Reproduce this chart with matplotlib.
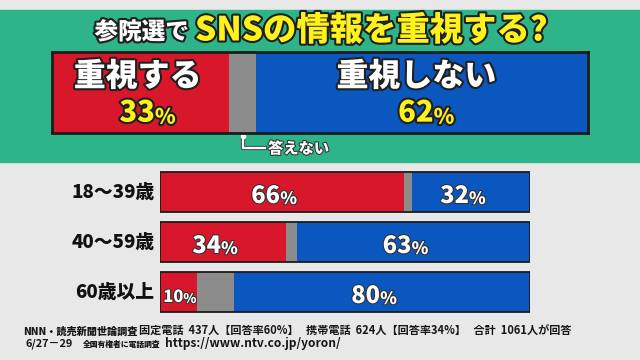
import matplotlib
matplotlib.use("Agg")
import matplotlib.pyplot as plt
import matplotlib.patheffects as pe

plt.rcParams['font.family'] = ['Noto Sans CJK JP', 'DejaVu Sans']

# ---- data ----
title_white = "参院選で"
title_yellow = "SNSの情報を重視する?"
overall_labels = ["重視する", "答えない", "重視しない"]
overall_values = [33, 5, 62]
age_groups = ["18～39歳", "40～59歳", "60歳以上"]
age_yes = [66, 34, 10]
age_dk = [2, 3, 10]
age_no = [32, 63, 80]
footer1_head = "NNN・読売新聞世論調査"
footer1_parts = ["固定電話", "437人【回答率60%】", "携帯電話", "624人【回答率34%】", "合計", "1061人が回答"]
footer2_date = "6/27－29"
footer2_note = "全国有権者に電話調査"
footer2_url = "https://www.ntv.co.jp/yoron/"

RED = "#d8182a"
BLUE = "#0b57c0"
GRAY = "#8c8c8c"
GREEN = "#2db488"
YELLOW = "#fff21a"
EDGE = "#1c1c1c"
BG = "#e8e8e8"
HEAVY = 900

W, H = 640, 360
fig = plt.figure(figsize=(6.4, 3.6), dpi=100, facecolor=BG)

bg = fig.add_axes([0, 0, 1, 1])
bg.set_xlim(0, W)
bg.set_ylim(H, 0)
bg.axis('off')
bg.axhspan(10, 162, color=GREEN, zorder=0)

outline = [pe.withStroke(linewidth=3, foreground="#202020")]
thin = [pe.withStroke(linewidth=1.5, foreground="#303030")]

# title
bg.text(189, 32, title_white, ha='right', va='center', fontsize=17, fontweight=HEAVY,
        color='white', path_effects=outline)
bg.text(195, 30, title_yellow, ha='left', va='center', fontsize=24, fontweight=HEAVY,
        color=YELLOW, path_effects=outline)


def px_axes(x0, y0, x1, y1):
    return fig.add_axes([x0 / W, 1 - y1 / H, (x1 - x0) / W, (y1 - y0) / H])


def pct_text(ax, x, y, num, size, color, effects, pscale=0.72):
    t = ax.text(x, y, str(num), ha='right', va='baseline', fontsize=size,
                fontweight=HEAVY, color=color, path_effects=effects)
    ax.annotate('%', xy=(1, 0), xycoords=t, ha='left', va='bottom',
                fontsize=size * pscale, fontweight=HEAVY, color=color,
                path_effects=effects)
    return t


# ---- top overall bar ----
ax1 = px_axes(52, 52, 588, 133)
ax1.set_xlim(0, 100)
ax1.set_ylim(0.5, -0.5)
left = 0
cols = [RED, GRAY, BLUE]
for v, c in zip(overall_values, cols):
    ax1.barh(0, v, left=left, height=1.0, color=c, edgecolor='none')
    left += v
ax1.set_xticks([])
ax1.set_yticks([])
for s in ax1.spines.values():
    s.set_linewidth(2)
    s.set_color(EDGE)

x_yes = overall_values[0] / 2 - 0.5
x_no = overall_values[0] + overall_values[1] + overall_values[2] / 2 - 1
ax1.text(x_yes, -0.2, overall_labels[0], ha='center', va='center', fontsize=23,
         fontweight=HEAVY, color='white', path_effects=outline)
ax1.text(x_no, -0.2, overall_labels[2], ha='center', va='center', fontsize=23,
         fontweight=HEAVY, color='white', path_effects=outline)
pct_text(ax1, x_yes + 3.2, 0.36, overall_values[0], 21, YELLOW, outline)
pct_text(ax1, x_no + 3.2, 0.36, overall_values[2], 21, YELLOW, outline)

# "答えない" connector
bg.plot([243, 243, 265], [136, 148, 148], color='white', lw=1.6, zorder=3,
        path_effects=[pe.withStroke(linewidth=3, foreground="#444444")])
bg.plot([243], [136], marker='o', ms=3, color='white', zorder=4)
bg.text(268, 149, overall_labels[1], ha='left', va='center', fontsize=11,
        fontweight=HEAVY, color='white', path_effects=thin)

# ---- age group bars ----
ax2 = px_axes(160, 167, 530, 317)
ax2.set_xlim(0, 100)
ax2.set_ylim(2.5, -0.5)
ax2.axis('off')
ys = list(range(len(age_groups)))
h = 0.8
ax2.barh(ys, age_yes, height=h, color=RED, edgecolor='none')
ax2.barh(ys, age_dk, left=age_yes, height=h, color=GRAY, edgecolor='none')
left2 = [a + b for a, b in zip(age_yes, age_dk)]
ax2.barh(ys, age_no, left=left2, height=h, color=BLUE, edgecolor='none')
totals = [a + b + c for a, b, c in zip(age_yes, age_dk, age_no)]
ax2.barh(ys, totals, height=h, facecolor='none', edgecolor=EDGE, linewidth=1.3)

for i, g in enumerate(age_groups):
    ax2.text(-1.5, i, g, ha='right', va='center', fontsize=13.5, fontweight=HEAVY,
             color='#111111')
    if age_yes[i] >= 20:
        pct_text(ax2, age_yes[i] / 2 - 0.5, i + 0.22, age_yes[i], 17, 'white', thin)
    else:
        pct_text(ax2, age_yes[i] / 2 + 1.3, i + 0.2, age_yes[i], 12, 'white', thin, 0.8)
    xc = left2[i] + age_no[i] / 2
    pct_text(ax2, xc - 0.5, i + 0.22, age_no[i], 17, 'white', thin)

# ---- footer ----
FC = '#161616'
bg.text(23, 334.5, footer1_head, ha='left', va='baseline', fontsize=7.3,
        fontweight=HEAVY, color=FC)
line1 = "  ".join(footer1_parts[:2]) + "   " + "  ".join(footer1_parts[2:4]) + "   " + "  ".join(footer1_parts[4:])
bg.text(139, 334.5, line1, ha='left', va='baseline', fontsize=8.0,
        fontweight='bold', color=FC)
bg.text(25, 346.5, footer2_date, ha='left', va='baseline', fontsize=7.9,
        fontweight='bold', color=FC)
bg.text(83, 346.5, footer2_note, ha='left', va='baseline', fontsize=5.6,
        fontweight=HEAVY, color=FC)
bg.text(165, 346.5, footer2_url, ha='left', va='baseline', fontsize=8.6,
        fontweight='bold', color=FC)

fig.savefig("out.png", dpi=100, facecolor=BG)
